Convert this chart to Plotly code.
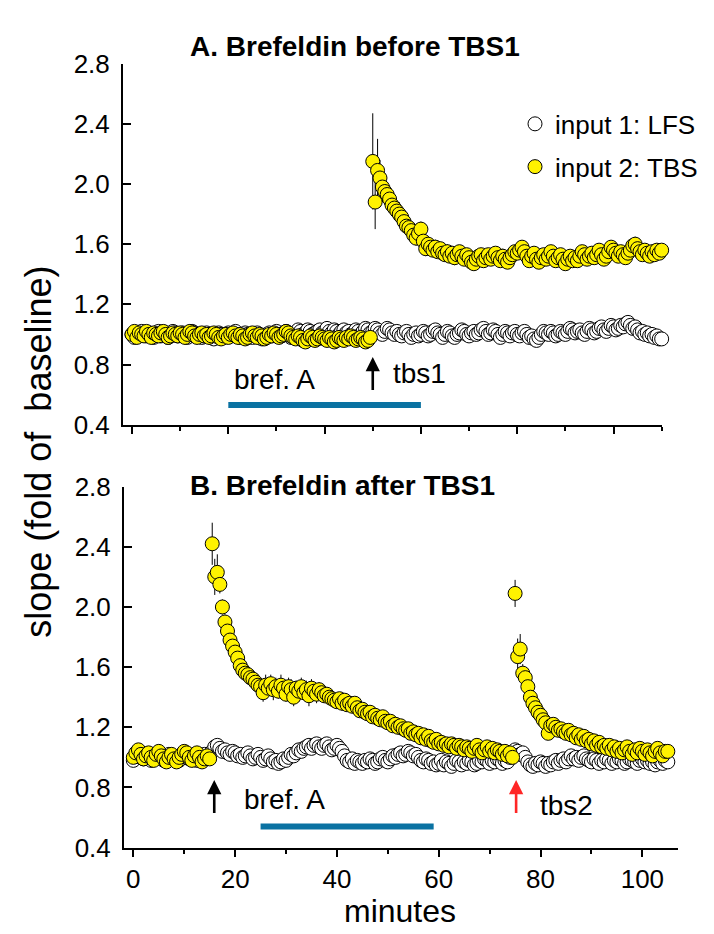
import numpy as np
import plotly.graph_objects as go

W, H = 714, 934
STEP = 0.5  # sampling interval (min)

# ---------------- Panel A: Brefeldin before TBS1 ----------------
a_lfs_start = 0.0
a_lfs = [
    1.00, 0.98, 1.01, 0.99, 1.02, 1.00, 0.99, 1.01, 1.00, 0.98,
    1.01, 1.02, 0.99, 1.00, 1.01, 0.98, 1.00, 1.02, 1.01, 0.99,
    1.00, 1.01, 0.99, 0.98, 1.00, 1.02, 1.01, 0.99, 1.00, 0.98,
    0.99, 1.01, 1.00, 0.98, 0.97, 0.99, 1.01, 1.00, 0.98, 1.00,
    1.01, 0.99, 1.00, 1.02, 1.00, 0.98, 0.99, 1.01, 1.00, 0.99,
    0.98, 1.00, 1.01, 0.99, 0.97, 0.99, 1.00, 1.01, 0.99, 1.00,
    1.02, 1.00, 0.99, 1.01, 1.02, 1.00, 0.98, 1.00, 1.01, 1.03,
    1.02, 1.00, 1.01, 1.03, 1.02, 1.00, 1.01, 1.02, 1.03, 1.01,
    1.02, 1.04, 1.02, 1.01, 1.03, 1.02, 1.00, 1.02, 1.03, 1.01,
    1.02, 1.00, 1.01, 1.03, 1.02, 1.00, 1.02, 1.04, 1.03, 1.01,
    1.02, 1.04, 1.03, 1.01, 1.00, 1.02, 1.04, 1.03, 1.01, 1.00,
    1.02, 1.00, 0.99, 1.01, 1.02, 1.00, 0.98, 1.00, 1.01, 0.99,
    1.00, 1.02, 1.01, 0.99, 1.00, 1.02, 1.03, 1.01, 1.00, 0.98,
    1.00, 1.02, 1.01, 0.99, 0.98, 1.00, 1.01, 1.03, 1.02, 1.00,
    0.99, 1.01, 1.02, 1.00, 1.01, 1.03, 1.04, 1.02, 1.00, 1.01,
    1.03, 1.02, 1.00, 0.98, 1.00, 1.02, 1.01, 0.99, 1.01, 1.02,
    1.00, 0.99, 1.01, 1.02, 1.00, 0.98, 0.99, 0.97, 0.96, 0.98,
    1.00, 1.02, 1.01, 1.00, 1.02, 1.01, 0.99, 1.00, 1.02, 1.01,
    1.00, 1.02, 1.04, 1.03, 1.01, 1.02, 1.03, 1.01, 1.00, 1.02,
    1.04, 1.03, 1.01, 1.02, 1.04, 1.05, 1.03, 1.02, 1.04, 1.06,
    1.05, 1.03, 1.04, 1.06, 1.05, 1.07, 1.08, 1.06, 1.04, 1.05,
    1.03, 1.01, 1.02, 1.00, 1.01, 0.99, 1.00, 0.98, 0.99, 0.97,
    0.97,
]
a_tbs_base_start = 0.0
a_tbs_base = [
    1.00, 1.02, 0.98, 1.01, 1.00, 0.99, 1.02, 1.00, 0.98, 1.01,
    1.00, 0.99, 1.01, 1.02, 1.00, 0.98, 0.99, 1.01, 1.00, 0.99,
    1.01, 1.00, 0.98, 1.00, 1.02, 1.01, 0.99, 0.98, 1.00, 1.01,
    0.99, 1.00, 0.98, 0.99, 1.01, 1.00, 0.98, 0.97, 0.99, 1.00,
    0.98, 1.00, 1.01, 0.99, 0.98, 1.00, 0.99, 0.97, 0.98, 1.00,
    1.01, 0.99, 0.98, 1.00, 0.99, 0.97, 0.98, 1.00, 0.99, 1.01,
    1.00, 0.98, 0.99, 1.00, 1.02, 1.01, 0.99, 0.98, 0.97, 0.99,
    0.98, 0.96, 0.95, 0.97, 0.99, 0.98, 0.96, 0.97, 0.99, 0.98,
    0.97, 0.96, 0.98, 0.97, 0.95, 0.96, 0.98, 0.97, 0.96, 0.98,
    0.97, 0.99, 0.98, 0.96, 0.97, 0.98, 0.97, 0.95, 0.96, 0.98,
]
a_tbs_post_start = 50.0
a_tbs_post = [
    2.15, 1.88, 2.09, 2.04, 1.98, 1.95, 1.93, 1.90, 1.86, 1.84,
    1.82, 1.80, 1.78, 1.75, 1.72, 1.71, 1.69, 1.66, 1.64, 1.67,
    1.70, 1.62, 1.57, 1.60, 1.58, 1.56, 1.58, 1.55, 1.57, 1.54,
    1.53, 1.55, 1.52, 1.54, 1.51, 1.53, 1.55, 1.52, 1.50, 1.53,
    1.51, 1.48, 1.47, 1.50, 1.52, 1.53, 1.49, 1.51, 1.53, 1.50,
    1.52, 1.54, 1.51, 1.49, 1.52, 1.50, 1.48, 1.51, 1.53, 1.55,
    1.54, 1.56, 1.58, 1.55, 1.52, 1.49, 1.52, 1.54, 1.50, 1.48,
    1.51, 1.53, 1.50, 1.52, 1.55, 1.52, 1.49, 1.51, 1.53, 1.50,
    1.47, 1.50, 1.52, 1.49, 1.51, 1.49, 1.52, 1.55, 1.53, 1.50,
    1.52, 1.54, 1.51, 1.53, 1.56, 1.53, 1.50, 1.52, 1.55, 1.58,
    1.56, 1.54, 1.52, 1.55, 1.53, 1.51, 1.54, 1.56, 1.59, 1.60,
    1.57, 1.55, 1.53, 1.56, 1.54, 1.52, 1.55, 1.53, 1.56, 1.54,
    1.56,
]
a_tbs_post_err = [
    0.32, 0.18, 0.21, 0.12, 0.10, 0.09, 0.08, 0.09, 0.07, 0.08,
    0.07, 0.08, 0.06, 0.07, 0.06, 0.07, 0.05, 0.06, 0.05, 0.06,
    0.05, 0.06, 0.05, 0.04, 0.05, 0.04, 0.05, 0.04, 0.04, 0.05,
    0.04, 0.05, 0.04, 0.04, 0.05, 0.04, 0.04, 0.03, 0.04, 0.04,
    0.04, 0.03, 0.04, 0.05, 0.04, 0.04, 0.03, 0.04, 0.04, 0.03,
    0.04, 0.04, 0.03, 0.04, 0.05, 0.04, 0.03, 0.04, 0.04, 0.03,
    0.04, 0.03, 0.04, 0.04, 0.03, 0.04, 0.05, 0.04, 0.03, 0.04,
    0.04, 0.03, 0.04, 0.04, 0.03, 0.04, 0.04, 0.05, 0.04, 0.03,
    0.04, 0.04, 0.03, 0.04, 0.04, 0.03, 0.04, 0.04, 0.05, 0.04,
    0.03, 0.04, 0.04, 0.03, 0.04, 0.04, 0.03, 0.04, 0.05, 0.04,
    0.04, 0.03, 0.04, 0.04, 0.03, 0.04, 0.04, 0.03, 0.04, 0.05,
    0.04, 0.03, 0.04, 0.04, 0.03, 0.04, 0.04, 0.03, 0.04, 0.04,
    0.04,
]
a_bref = [20, 60]
a_tbs1_time = 50

# ---------------- Panel B: Brefeldin after TBS1 ----------------
b_lfs_start = 0.0
b_lfs = [
    0.98, 1.01, 1.03, 1.00, 0.99, 1.02, 1.01, 0.98, 1.00, 1.02,
    1.01, 0.99, 0.98, 1.00, 1.02, 1.01, 0.99, 1.00, 0.98, 1.01,
    1.02, 1.00, 0.99, 1.01, 1.00, 0.98, 0.99, 1.01, 1.02, 1.00,
    1.02, 1.04, 1.07, 1.08, 1.06, 1.04, 1.05, 1.03, 1.02, 1.04,
    1.03, 1.01, 1.02, 1.00, 1.01, 1.03, 1.01, 0.99, 1.00, 1.02,
    1.00, 0.98, 0.99, 1.01, 0.99, 0.97, 0.98, 0.96, 0.97, 0.99,
    0.98, 1.00, 1.02, 1.01, 1.03, 1.05, 1.04, 1.06, 1.07, 1.08,
    1.06, 1.08, 1.09, 1.07, 1.06, 1.08, 1.09, 1.07, 1.05, 1.06,
    1.08, 1.06, 1.04, 1.01, 0.98, 0.97, 0.99, 0.96, 0.98, 0.97,
    0.96, 0.98, 0.97, 0.99, 0.98, 0.96, 0.97, 0.99, 1.00, 0.98,
    0.97, 0.99, 1.01, 1.00, 1.02, 1.03, 1.01, 1.02, 1.04, 1.03,
    1.01, 1.02, 1.00, 0.98, 0.97, 0.99, 0.98, 0.96, 0.97, 0.95,
    0.96, 0.98, 0.95, 0.97, 0.96, 0.94, 0.96, 0.98, 0.97, 0.95,
    0.97, 0.96, 0.98, 0.97, 0.95, 0.96, 0.98, 0.97, 0.99, 0.98,
    0.96, 0.98, 0.97, 0.99, 0.98, 0.96, 0.98, 0.97, 1.00, 1.03,
    1.05, 1.04, 1.02, 1.03, 1.00, 0.97, 0.95, 0.94, 0.96, 0.95,
    0.97, 0.96, 0.94, 0.96, 0.95, 0.97, 0.98, 0.96, 0.98, 0.99,
    0.97, 0.99, 1.01, 0.99, 1.00, 0.98, 1.00, 1.01, 0.99, 0.98,
    0.97, 0.99, 0.98, 0.96, 0.98, 0.97, 0.99, 0.98, 0.96, 0.98,
    0.97, 0.99, 0.98, 0.96, 0.97, 0.99, 0.98, 0.97, 0.96, 0.98,
    0.99, 0.97, 0.98, 0.96, 0.97, 0.95, 0.97, 0.98, 0.96, 0.98,
    0.97,
]
b_tbs_base_start = 0.0
b_tbs_base = [
    1.00, 1.03, 1.05, 1.02, 0.99, 1.01, 1.03, 1.00, 0.98, 1.02,
    1.04, 1.01, 0.99, 0.97, 1.00, 1.02, 0.99, 0.97, 1.00, 1.02,
    1.04, 1.03, 1.00, 0.98, 1.01, 1.03, 1.00, 0.97, 0.99, 1.01,
    0.99,
]
b_tbs_post1_start = 15.5
b_tbs_post1 = [
    2.42, 2.20, 2.23, 2.15, 2.00, 1.90, 1.84, 1.78, 1.74, 1.70,
    1.66, 1.61, 1.58, 1.56, 1.55, 1.53, 1.52, 1.50, 1.48, 1.47,
    1.43, 1.48, 1.46, 1.49, 1.45, 1.47, 1.44, 1.48, 1.46, 1.42,
    1.47, 1.45, 1.40, 1.46, 1.44, 1.47, 1.43, 1.45, 1.41, 1.46,
    1.44, 1.42, 1.45, 1.43, 1.41, 1.42, 1.40, 1.39, 1.38, 1.37,
    1.39, 1.36, 1.38, 1.35, 1.36, 1.34, 1.36, 1.33, 1.31, 1.32,
    1.30, 1.29, 1.30, 1.27, 1.28, 1.26, 1.25, 1.27, 1.24, 1.23,
    1.24, 1.21, 1.22, 1.20, 1.21, 1.19, 1.18, 1.19, 1.16, 1.17,
    1.15, 1.16, 1.13, 1.15, 1.12, 1.14, 1.11, 1.10, 1.12, 1.09,
    1.10, 1.08, 1.09, 1.07, 1.09, 1.08, 1.06, 1.08, 1.07, 1.05,
    1.07, 1.06, 1.04, 1.06, 1.08, 1.05, 1.03, 1.05, 1.07, 1.04,
    1.06, 1.03, 1.05, 1.04, 1.02, 1.04, 1.01, 1.03, 1.00,
]
b_tbs_post1_err = [
    0.14, 0.12, 0.12, 0.06, 0.05, 0.05, 0.04, 0.05, 0.04, 0.04,
    0.04, 0.05, 0.04, 0.04, 0.05, 0.04, 0.04, 0.05, 0.06, 0.05,
    0.06, 0.07, 0.05, 0.06, 0.07, 0.06, 0.05, 0.07, 0.06, 0.05,
    0.06, 0.07, 0.06, 0.05, 0.07, 0.06, 0.05, 0.06, 0.07, 0.06,
    0.05, 0.06, 0.05, 0.04, 0.05, 0.04, 0.05, 0.04, 0.05, 0.04,
    0.04, 0.05, 0.04, 0.04, 0.05, 0.04, 0.04, 0.05, 0.04, 0.04,
    0.04, 0.03, 0.04, 0.04, 0.03, 0.04, 0.04, 0.03, 0.04, 0.04,
    0.03, 0.04, 0.04, 0.03, 0.04, 0.03, 0.04, 0.04, 0.03, 0.04,
    0.03, 0.04, 0.03, 0.03, 0.04, 0.03, 0.03, 0.04, 0.03, 0.03,
    0.03, 0.03, 0.02, 0.03, 0.03, 0.02, 0.03, 0.03, 0.02, 0.03,
    0.03, 0.02, 0.03, 0.03, 0.02, 0.03, 0.02, 0.03, 0.03, 0.02,
    0.03, 0.02, 0.03, 0.02, 0.03, 0.02, 0.03, 0.02, 0.02,
]
b_tbs_post2_start = 75.0
b_tbs_post2 = [
    2.09, 1.67, 1.72, 1.56, 1.53, 1.47, 1.40, 1.36, 1.33, 1.30,
    1.28, 1.25, 1.23, 1.16, 1.21, 1.22, 1.20, 1.18, 1.19, 1.17,
    1.16, 1.18, 1.15, 1.16, 1.13, 1.15, 1.12, 1.14, 1.11, 1.12,
    1.09, 1.11, 1.08, 1.10, 1.07, 1.08, 1.06, 1.08, 1.05, 1.07,
    1.04, 1.06, 1.03, 1.05, 1.07, 1.04, 1.02, 1.05, 1.03, 1.06,
    1.04, 1.02, 1.05, 1.03, 1.01, 1.04, 1.06, 1.03, 1.01, 1.04,
    1.04,
]
b_tbs_post2_err = [
    0.09, 0.12, 0.10, 0.06, 0.05, 0.05, 0.04, 0.04, 0.05, 0.04,
    0.04, 0.05, 0.04, 0.04, 0.03, 0.04, 0.04, 0.03, 0.04, 0.04,
    0.03, 0.04, 0.03, 0.04, 0.03, 0.03, 0.04, 0.03, 0.03, 0.04,
    0.03, 0.03, 0.02, 0.03, 0.03, 0.02, 0.03, 0.03, 0.02, 0.03,
    0.02, 0.03, 0.03, 0.02, 0.03, 0.02, 0.03, 0.02, 0.03, 0.02,
    0.03, 0.02, 0.03, 0.02, 0.03, 0.02, 0.03, 0.02, 0.03, 0.02,
    0.03,
]
b_bref = [25, 59]
b_tbs1_time = 15.9
b_tbs2_time = 75.2

y_ticks = [0.4, 0.8, 1.2, 1.6, 2.0, 2.4, 2.8]
x_major_ticks = [0, 20, 40, 60, 80, 100]
x_minor_ticks = [10, 30, 50, 70, 90, 110]


def times(start, vals):
    return start + STEP * np.arange(len(vals))


def px(x):
    return x / W


def py(y):
    return 1 - y / H


YELLOW = "#FFF200"
BLUE = "#0A72A2"
FONT = "Liberation Sans, Arial, sans-serif"
MS = 14

white_marker = dict(symbol="circle", size=MS, color="white", line=dict(color="black", width=1))
yellow_marker = dict(symbol="circle", size=MS, color=YELLOW, line=dict(color="black", width=1))


def err(arr):
    return dict(type="data", array=arr, visible=True, color="black", thickness=1, width=0)


fig = go.Figure()

# Panel A
fig.add_trace(go.Scatter(x=times(a_lfs_start, a_lfs), y=a_lfs, mode="markers",
                         marker=white_marker, name="input 1: LFS", legendgroup="lfs",
                         xaxis="x", yaxis="y", cliponaxis=False))
fig.add_trace(go.Scatter(x=times(a_tbs_base_start, a_tbs_base), y=a_tbs_base, mode="markers",
                         marker=yellow_marker, name="input 2: TBS", legendgroup="tbs",
                         xaxis="x", yaxis="y", cliponaxis=False))
fig.add_trace(go.Scatter(x=times(a_tbs_post_start, a_tbs_post), y=a_tbs_post, mode="markers",
                         marker=yellow_marker, error_y=err(a_tbs_post_err), showlegend=False,
                         xaxis="x", yaxis="y", cliponaxis=False))

# Panel B
fig.add_trace(go.Scatter(x=times(b_lfs_start, b_lfs), y=b_lfs, mode="markers",
                         marker=white_marker, showlegend=False,
                         xaxis="x2", yaxis="y2", cliponaxis=False))
fig.add_trace(go.Scatter(x=times(b_tbs_base_start, b_tbs_base), y=b_tbs_base, mode="markers",
                         marker=yellow_marker, showlegend=False,
                         xaxis="x2", yaxis="y2", cliponaxis=False))
fig.add_trace(go.Scatter(x=times(b_tbs_post1_start, b_tbs_post1), y=b_tbs_post1, mode="markers",
                         marker=yellow_marker, error_y=err(b_tbs_post1_err), showlegend=False,
                         xaxis="x2", yaxis="y2", cliponaxis=False))
fig.add_trace(go.Scatter(x=times(b_tbs_post2_start, b_tbs_post2), y=b_tbs_post2, mode="markers",
                         marker=yellow_marker, error_y=err(b_tbs_post2_err), showlegend=False,
                         xaxis="x2", yaxis="y2", cliponaxis=False))

axis_common = dict(showgrid=False, zeroline=False, showline=True, linecolor="black", linewidth=2,
                   tickcolor="black", tickwidth=2, mirror=False,
                   tickfont=dict(family=FONT, size=26, color="black"))

xa = dict(axis_common, tickmode="array", tickvals=x_major_ticks, ticks="outside", ticklen=7,
          minor=dict(tickmode="array", tickvals=x_minor_ticks, ticks="outside", ticklen=4,
                     tickwidth=2, tickcolor="black"))
ya = dict(axis_common, tickmode="array", tickvals=y_ticks, tickformat=".1f", ticks="inside",
          ticklen=8, range=[0.4, 2.8], ticklabelstandoff=6)

fig.update_layout(
    width=W, height=H, margin=dict(l=0, r=0, t=0, b=0),
    paper_bgcolor="white", plot_bgcolor="white",
    font=dict(family=FONT, color="black"),
    xaxis=dict(xa, domain=[px(115), px(654)], range=[-1.87, 110.07], showticklabels=False,
               anchor="y"),
    yaxis=dict(ya, domain=[py(415), py(42)], anchor="x"),
    xaxis2=dict(xa, domain=[px(116), px(670)], range=[-1.83, 107.0], showticklabels=True,
                anchor="y2"),
    yaxis2=dict(ya, domain=[py(852), py(479)], anchor="x2"),
    legend=dict(x=px(507), y=py(80), xanchor="left", yanchor="top", bgcolor="rgba(0,0,0,0)",
                font=dict(family=FONT, size=26, color="black"), tracegroupgap=6,
                traceorder="grouped"),
    showlegend=True,
)

# blue brefeldin bars
fig.add_shape(type="line", xref="x", yref="y", x0=a_bref[0], x1=a_bref[1], y0=0.53, y1=0.53,
              line=dict(color=BLUE, width=6))
fig.add_shape(type="line", xref="x2", yref="y2", x0=b_bref[0], x1=b_bref[1], y0=0.54, y1=0.54,
              line=dict(color=BLUE, width=6))

ann = []
# titles
ann.append(dict(text="<b>A. Brefeldin before TBS1</b>", xref="paper", yref="paper",
                x=px(180), y=py(24), xanchor="left", yanchor="middle", showarrow=False,
                font=dict(family=FONT, size=28)))
ann.append(dict(text="<b>B. Brefeldin after TBS1</b>", xref="paper", yref="paper",
                x=px(180), y=py(478), xanchor="left", yanchor="middle", showarrow=False,
                font=dict(family=FONT, size=28)))
# axis titles
ann.append(dict(text="slope (fold of  baseline)", xref="paper", yref="paper",
                x=px(31), y=py(443), xanchor="center", yanchor="middle", textangle=-90,
                showarrow=False, font=dict(family=FONT, size=36)))
ann.append(dict(text="minutes", xref="paper", yref="paper", x=px(392), y=py(917),
                xanchor="center", yanchor="middle", showarrow=False,
                font=dict(family=FONT, size=32)))


def arrow(xref, yref, x, color):
    return dict(text="", xref=xref, yref=yref, x=x, y=0.85, ax=x, ay=0.62, axref=xref, ayref=yref,
                showarrow=True, arrowhead=2, arrowsize=1.1, arrowwidth=2.6, arrowcolor=color,
                standoff=0, startstandoff=0)


ann.append(arrow("x", "y", a_tbs1_time, "black"))
ann.append(arrow("x2", "y2", b_tbs1_time, "black"))
ann.append(arrow("x2", "y2", b_tbs2_time, "#FF2626"))
# labels
ann.append(dict(text="bref. A", xref="x", yref="y", x=20.8, y=0.70, xanchor="left",
                yanchor="middle", showarrow=False, font=dict(family=FONT, size=28)))
ann.append(dict(text="tbs1", xref="x", yref="y", x=53.8, y=0.74, xanchor="left",
                yanchor="middle", showarrow=False, font=dict(family=FONT, size=28)))
ann.append(dict(text="bref. A", xref="x2", yref="y2", x=21.4, y=0.72, xanchor="left",
                yanchor="middle", showarrow=False, font=dict(family=FONT, size=28)))
ann.append(dict(text="tbs2", xref="x2", yref="y2", x=79.5, y=0.68, xanchor="left",
                yanchor="middle", showarrow=False, font=dict(family=FONT, size=28)))
fig.update_layout(annotations=ann)

fig.write_html("out.html")
